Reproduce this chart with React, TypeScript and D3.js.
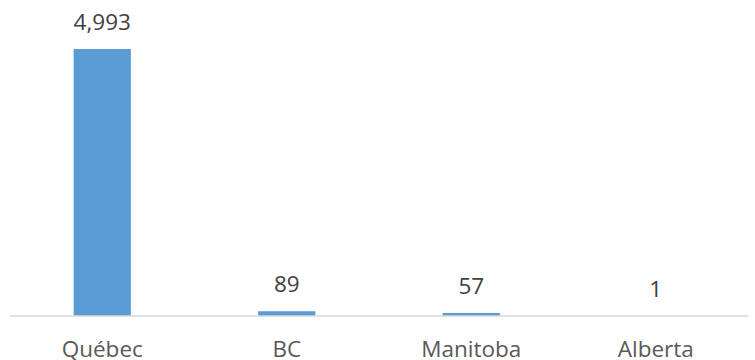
import React from "react";
import * as d3 from "d3";

const provinces = ["Québec", "BC", "Manitoba", "Alberta"];
const counts = [4993, 89, 57, 1];

const W = 755;
const H = 360;
const left = 10;
const right = 748;
const baseline = 316;
const topY = 49;

export default function App() {
  const x = d3.scaleBand<string>().domain(provinces).range([left, right]).paddingInner(0.69).paddingOuter(0.345);
  const y = d3.scaleLinear().domain([0, d3.max(counts) as number]).range([baseline, topY]);
  const fmt = d3.format(",");
  const font = "'Open Sans', 'Noto Sans', sans-serif";

  return (
    <svg width={W} height={H} style={{ position: "absolute", left: 0, top: 0, background: "#fff" }}>
      {provinces.map((p, i) => {
        const bx = x(p) as number;
        const bw = x.bandwidth();
        const cx = bx + bw / 2;
        const yt = y(counts[i]);
        return (
          <g key={p}>
            <rect x={bx} y={yt} width={bw} height={baseline - yt} fill="#5B9BD5" />
            <text x={cx} y={yt - 19} textAnchor="middle" fontFamily={font} fontSize={22.5} fill="#404040">
              {fmt(counts[i])}
            </text>
            <text x={cx} y={357} textAnchor="middle" fontFamily={font} fontSize={22.5} fill="#595959">
              {p}
            </text>
          </g>
        );
      })}
      <line x1={left} x2={right} y1={baseline} y2={baseline} stroke="#D9D9D9" strokeWidth={1.5} />
    </svg>
  );
}
